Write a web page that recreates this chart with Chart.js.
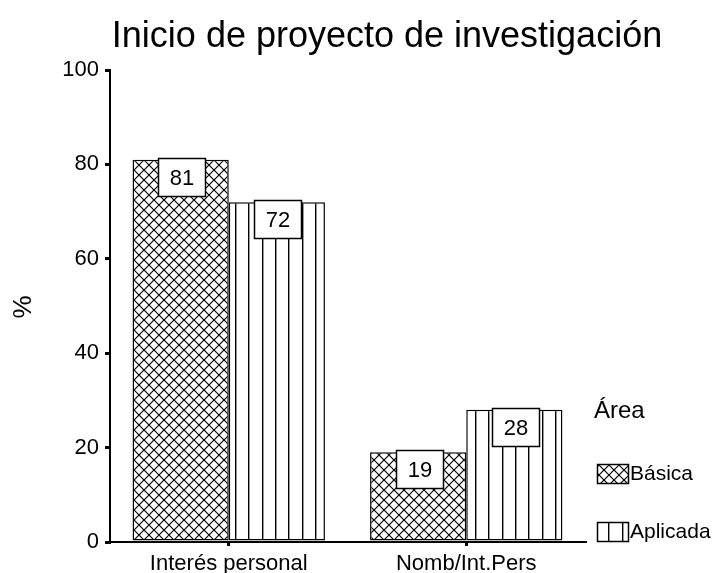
<!DOCTYPE html>
<html>
<head>
<meta charset="utf-8">
<script src="https://cdn.jsdelivr.net/npm/chart.js@4/dist/chart.umd.min.js"></script>
<style>
  html, body { margin: 0; padding: 0; background: #fff; }
  #wrap { width: 718px; height: 573px; }
</style>
</head>
<body>
<div id="wrap"><canvas id="c" width="718" height="573"></canvas></div>
<script>
const categories = ['Interés personal', 'Nomb/Int.Pers'];
const basica = [81, 19];
const aplicada = [72, 28];
const seriesNames = ['Básica', 'Aplicada'];
const yTickValues = [0, 20, 40, 60, 80, 100];
const titleText = 'Inicio de proyecto de investigación';
const yAxisTitle = '%';
const legendTitle = 'Área';

const FONT = '"Liberation Sans", Arial, sans-serif';

// Diamond lattice fill (two sets of diagonal lines)
function crossHatch(ctx) {
  const s = 10;
  const c = document.createElement('canvas');
  c.width = s; c.height = s;
  const g = c.getContext('2d');
  g.fillStyle = '#fff';
  g.fillRect(0, 0, s, s);
  g.strokeStyle = '#000';
  g.lineWidth = 1.2;
  g.beginPath();
  g.moveTo(-1, -1); g.lineTo(s + 1, s + 1);
  g.moveTo(s + 1, -1); g.lineTo(-1, s + 1);
  g.stroke();
  return ctx.createPattern(c, 'repeat');
}

// Evenly spaced vertical rules
function verticalRules(ctx) {
  const w = 40;
  const c = document.createElement('canvas');
  c.width = w; c.height = 4;
  const g = c.getContext('2d');
  g.fillStyle = '#fff';
  g.fillRect(0, 0, w, 4);
  g.fillStyle = '#000';
  [0, 13, 27].forEach(x => g.fillRect(x, 0, 1.4, 4));
  return ctx.createPattern(c, 'repeat');
}

const canvas = document.getElementById('c');
const ctx = canvas.getContext('2d');
const patBasica = crossHatch(ctx);
const patAplicada = verticalRules(ctx);
if (patAplicada.setTransform) patAplicada.setTransform(new DOMMatrix().translate(235, 0));
if (patBasica.setTransform) patBasica.setTransform(new DOMMatrix().translate(134, 0));

const overlay = {
  id: 'overlay',
  afterDraw(chart) {
    const c = chart.ctx;
    c.save();
    c.fillStyle = '#000';

    // Title
    c.font = '36px ' + FONT;
    c.textAlign = 'center';
    c.textBaseline = 'alphabetic';
    c.fillText(titleText, 387, 47);

    // Y axis title
    c.save();
    c.translate(24, 307);
    c.rotate(-Math.PI / 2);
    c.font = '26px ' + FONT;
    c.textAlign = 'center';
    c.textBaseline = 'middle';
    c.fillText(yAxisTitle, 0, 0);
    c.restore();

    // Value boxes on top of each bar
    chart.data.datasets.forEach((ds, di) => {
      const meta = chart.getDatasetMeta(di);
      meta.data.forEach((bar, i) => {
        const bw = 47, bh = 38;
        const x0 = Math.round(bar.x - bw / 2 + 1) + 0.5;
        const y0 = Math.round(bar.y - 2) + 0.5;
        c.fillStyle = '#fff';
        c.fillRect(x0, y0, bw, bh);
        c.strokeStyle = '#000';
        c.lineWidth = 1.5;
        c.strokeRect(x0, y0, bw, bh);
        c.fillStyle = '#000';
        c.font = '22px ' + FONT;
        c.textAlign = 'center';
        c.textBaseline = 'middle';
        c.fillText(String(ds.data[i]), x0 + bw / 2, y0 + bh / 2 + 1);
      });
    });

    // Legend
    c.fillStyle = '#000';
    c.font = '24px ' + FONT;
    c.textAlign = 'left';
    c.textBaseline = 'alphabetic';
    c.fillText(legendTitle, 594, 418);

    const entries = [
      { label: seriesNames[0], fill: patBasica, y: 464 },
      { label: seriesNames[1], fill: patAplicada, y: 522 }
    ];
    entries.forEach(e => {
      c.fillStyle = e.fill;
      c.fillRect(597, e.y, 31, 19);
      c.strokeStyle = '#000';
      c.lineWidth = 1.5;
      c.strokeRect(597.5, e.y + 0.5, 31, 19);
      c.fillStyle = '#000';
      c.font = '21px ' + FONT;
      c.textBaseline = 'middle';
      c.fillText(e.label, 630, e.y + 10);
    });

    c.restore();
  }
};

new Chart(canvas, {
  type: 'bar',
  data: {
    labels: categories,
    datasets: [
      { label: seriesNames[0], data: basica, backgroundColor: patBasica, borderColor: '#000', borderWidth: 1.5, borderSkipped: false },
      { label: seriesNames[1], data: aplicada, backgroundColor: patAplicada, borderColor: '#000', borderWidth: 1.5, borderSkipped: false }
    ]
  },
  options: {
    responsive: false,
    animation: false,
    events: [],
    categoryPercentage: 0.81,
    barPercentage: 1.0,
    layout: { padding: { top: 70, right: 133, left: 0, bottom: 0 } },
    plugins: {
      legend: { display: false },
      title: { display: false },
      tooltip: { enabled: false }
    },
    scales: {
      y: {
        min: 0,
        max: 100,
        afterBuildTicks(scale) { scale.ticks = yTickValues.map(v => ({ value: v })); },
        afterFit(scale) { scale.width = 110; },
        ticks: { color: '#000', font: { family: FONT, size: 22 }, padding: 6 },
        grid: { drawOnChartArea: false, drawTicks: true, tickLength: 5, lineWidth: 3, color: '#000' },
        border: { display: true, color: '#000', width: 2 }
      },
      x: {
        afterFit(scale) { scale.height = 31; },
        ticks: { color: '#000', font: { family: FONT, size: 22 }, padding: 5 },
        grid: { offset: false, drawOnChartArea: false, drawTicks: true, tickLength: 4, lineWidth: 3, color: '#000' },
        border: { display: true, color: '#000', width: 2 }
      }
    }
  },
  plugins: [overlay]
});
</script>
</body>
</html>
